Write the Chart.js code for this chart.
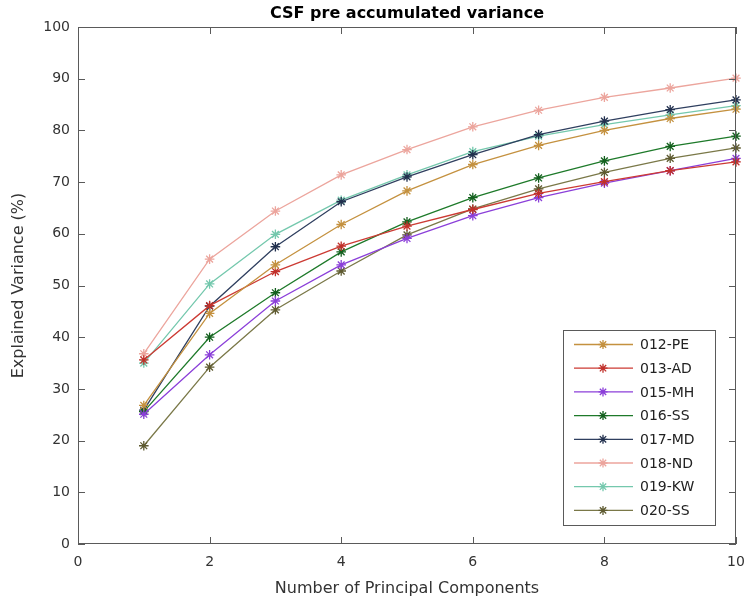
<!DOCTYPE html>
<html>
<head>
<meta charset="utf-8">
<script src="https://cdn.jsdelivr.net/npm/chart.js@4.4.0/dist/chart.umd.min.js"></script>
<style>
  html, body { margin: 0; padding: 0; background: #fff; }
  #wrap { position: relative; width: 746px; height: 601px; }
</style>
</head>
<body>
<div id="wrap"><canvas id="chart" width="746" height="601"></canvas></div>
<script>
const components = [1, 2, 3, 4, 5, 6, 7, 8, 9, 10];

const pe012 = [26.8, 44.6, 54.0, 61.8, 68.3, 73.4, 77.1, 80.0, 82.3, 84.1];
const ad013 = [35.6, 46.1, 52.7, 57.6, 61.5, 64.7, 67.8, 70.1, 72.2, 73.9];
const mh015 = [25.1, 36.6, 47.0, 54.0, 59.1, 63.5, 67.0, 69.8, 72.2, 74.6];
const ss016 = [25.6, 40.0, 48.6, 56.5, 62.3, 67.0, 70.8, 74.1, 76.9, 78.9];
const md017 = [25.9, 46.0, 57.5, 66.2, 71.0, 75.3, 79.2, 81.8, 84.0, 85.9];
const nd018 = [36.8, 55.1, 64.4, 71.4, 76.3, 80.7, 83.9, 86.4, 88.2, 90.1];
const kw019 = [35.0, 50.3, 59.9, 66.5, 71.4, 75.9, 78.9, 81.1, 83.0, 84.8];
const ss020 = [19.0, 34.2, 45.3, 52.8, 59.8, 64.8, 68.7, 71.9, 74.6, 76.6];

const seriesNames = ["012-PE", "013-AD", "015-MH", "016-SS", "017-MD", "018-ND", "019-KW", "020-SS"];
const seriesValues = [pe012, ad013, mh015, ss016, md017, nd018, kw019, ss020];
const seriesColors = ["#c4913f", "#cc3a33", "#8b3fd9", "#1e7a2a", "#2f3f5f", "#eca59d", "#74c8ad", "#7a7848"];
const markerColors = ["#c4913f", "#c0302a", "#8b3fd9", "#14601e", "#22304e", "#eca59d", "#74c8ad", "#5e5a30"];

const xTicks = [0, 2, 4, 6, 8, 10];
const yTicks = [0, 10, 20, 30, 40, 50, 60, 70, 80, 90, 100];

const FONT = "'DejaVu Sans', sans-serif";

// box around the plot + inward ticks on all four sides, matlab style
const axesBox = {
  id: "axesBox",
  afterDraw(chart) {
    const { ctx, chartArea: a, scales } = chart;
    ctx.save();
    ctx.strokeStyle = "#5a5a5a";
    ctx.lineWidth = 1;
    ctx.strokeRect(a.left + 0.5, a.top + 0.5, a.right - a.left - 1, a.bottom - a.top - 1);
    const len = 7;
    ctx.beginPath();
    xTicks.forEach((v) => {
      const x = Math.round(scales.x.getPixelForValue(v)) + 0.5;
      ctx.moveTo(x, a.bottom); ctx.lineTo(x, a.bottom - len);
      ctx.moveTo(x, a.top); ctx.lineTo(x, a.top + len);
    });
    yTicks.forEach((v) => {
      const y = Math.round(scales.y.getPixelForValue(v)) + 0.5;
      ctx.moveTo(a.left, y); ctx.lineTo(a.left + len, y);
      ctx.moveTo(a.right, y); ctx.lineTo(a.right - len, y);
    });
    ctx.stroke();

    // title
    ctx.fillStyle = "#000";
    ctx.font = "bold 16px " + FONT;
    ctx.textAlign = "center";
    ctx.textBaseline = "middle";
    ctx.fillText("CSF pre accumulated variance", (a.left + a.right) / 2, 14);

    // legend box inside lower right
    const bx = 563, by = 330, bw = 152, bh = 195, rowH = 23.7;
    ctx.fillStyle = "#fff";
    ctx.fillRect(bx, by, bw, bh);
    ctx.strokeStyle = "#5a5a5a";
    ctx.strokeRect(bx + 0.5, by + 0.5, bw, bh);
    ctx.font = "14px " + FONT;
    ctx.textAlign = "left";
    chart.data.datasets.forEach((ds, i) => {
      const y = by + 14.5 + i * rowH;
      ctx.strokeStyle = ds.borderColor;
      ctx.lineWidth = 1.3;
      ctx.beginPath();
      ctx.moveTo(574, y); ctx.lineTo(633, y);
      ctx.stroke();
      ctx.strokeStyle = ds.pointBorderColor;
      ctx.beginPath();
      Chart.helpers.drawPoint(ctx, { pointStyle: "star", radius: 4.5, borderWidth: 1.3 }, 603, y);
      ctx.fillStyle = "#222";
      ctx.fillText(ds.label, 640, y + 1);
    });
    ctx.restore();
  }
};

const datasets = seriesNames.map((name, i) => ({
  label: name,
  data: seriesValues[i].map((v, j) => ({ x: components[j], y: v })),
  borderColor: seriesColors[i],
  backgroundColor: seriesColors[i],
  pointBorderColor: markerColors[i],
  pointBackgroundColor: markerColors[i],
  pointStyle: "star",
  pointRadius: 4.8,
  pointBorderWidth: 1.3,
  borderWidth: 1.3,
  tension: 0,
  fill: false,
  clip: false
}));

new Chart(document.getElementById("chart"), {
  type: "line",
  data: { datasets },
  options: {
    responsive: false,
    animation: false,
    layout: { padding: { left: 0, right: 10, top: 27, bottom: 0 } },
    plugins: {
      legend: { display: false },
      title: { display: false },
      tooltip: { enabled: false }
    },
    scales: {
      x: {
        type: "linear",
        min: 0,
        max: 10,
        afterFit: (s) => { s.height = 57; s.paddingLeft = 0; s.paddingRight = 0; },
        afterBuildTicks: (s) => { s.ticks = xTicks.map((v) => ({ value: v })); },
        grid: { display: false, drawTicks: false },
        border: { display: false },
        ticks: { color: "#333", padding: 10, font: { family: FONT, size: 14 }, maxRotation: 0 },
        title: {
          display: true,
          text: "Number of Principal Components",
          color: "#333",
          font: { family: FONT, size: 16 },
          padding: { top: 0, bottom: 3 }
        }
      },
      y: {
        min: 0,
        max: 100,
        afterFit: (s) => { s.width = 78; s.paddingTop = 0; s.paddingBottom = 0; },
        afterBuildTicks: (s) => { s.ticks = yTicks.map((v) => ({ value: v })); },
        grid: { display: false, drawTicks: false },
        border: { display: false },
        ticks: { color: "#333", padding: 8, font: { family: FONT, size: 14 } },
        title: {
          display: true,
          text: "Explained Variance (%)",
          color: "#333",
          font: { family: FONT, size: 16 },
          padding: { top: 9, bottom: 0 }
        }
      }
    }
  },
  plugins: [axesBox]
});
</script>
</body>
</html>
